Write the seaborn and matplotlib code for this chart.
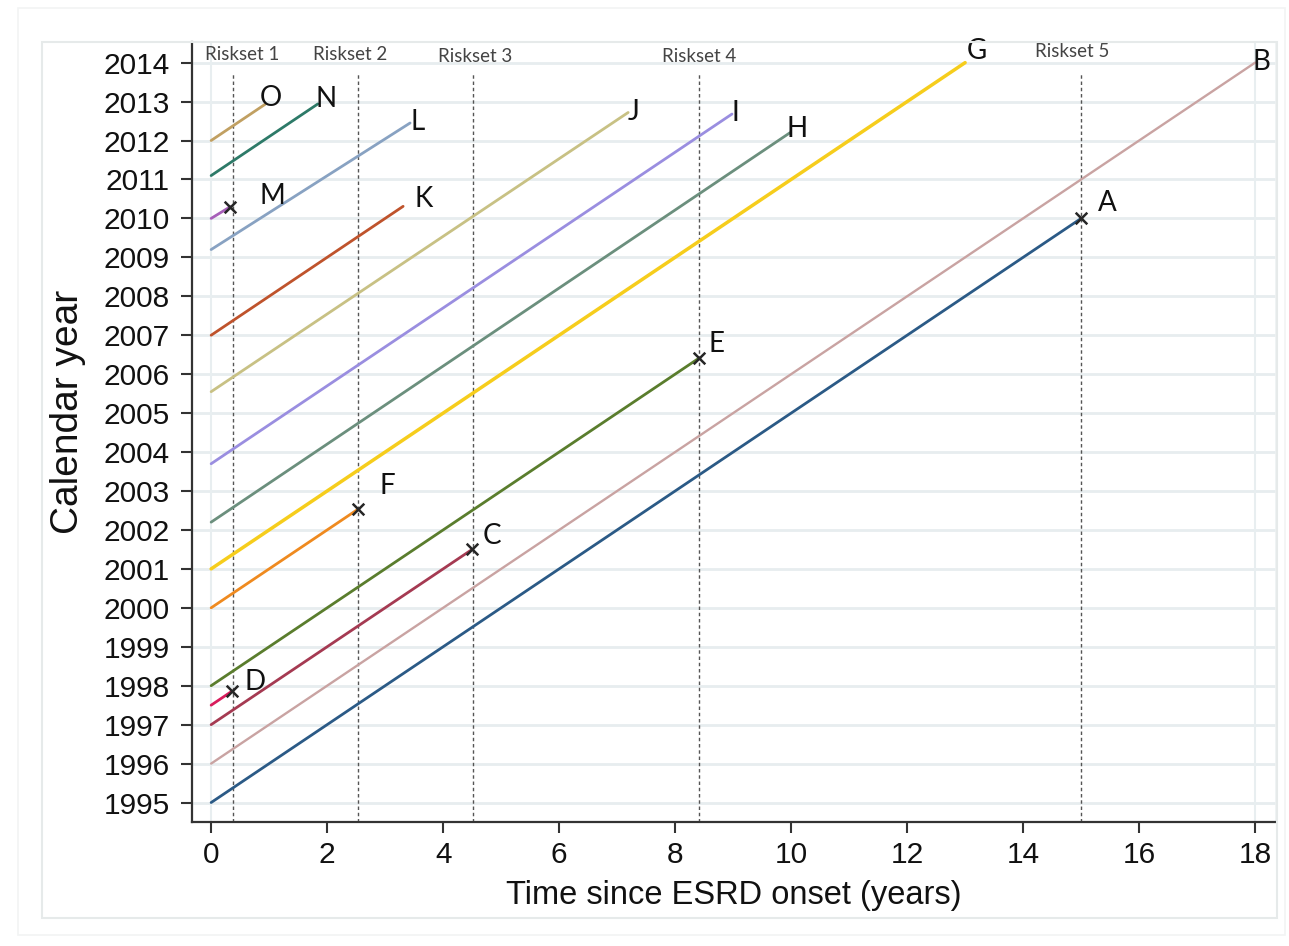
import matplotlib
matplotlib.use("Agg")
import matplotlib.pyplot as plt
from matplotlib.patches import Rectangle
import numpy as np
import pandas as pd
import seaborn as sns

# ---------------- data ----------------
ids = ["A", "B", "C", "D", "E", "F", "G", "H", "I", "J", "K", "L", "M", "N", "O"]
start_year = [1995.0, 1996.0, 1997.0, 1997.5, 1998.0, 2000.0, 2001.0, 2002.2,
              2003.7, 2005.55, 2007.0, 2009.2, 2010.0, 2011.1, 2012.0]
end_time = [15.0, 18.0, 4.5, 0.36, 8.41, 2.53, 13.0, 9.98,
            8.98, 7.19, 3.31, 3.43, 0.33, 1.84, 0.93]
end_year = [2010.0, 2014.0, 2001.5, 1997.86, 2006.41, 2002.53, 2014.0, 2012.2,
            2012.68, 2012.72, 2010.31, 2012.45, 2010.3, 2012.94, 2012.93]
event = [1, 0, 1, 1, 1, 1, 0, 0, 0, 0, 0, 0, 1, 0, 0]

riskset_time = [0.37, 2.54, 4.51, 8.41, 15.0]
riskset_labels = ["Riskset 1", "Riskset 2", "Riskset 3", "Riskset 4", "Riskset 5"]

year_ticks = list(range(1995, 2015))
time_ticks = list(range(0, 19, 2))

# ---------------- style ----------------
colors = {"A": "#2b5a86", "B": "#c9a3a2", "C": "#a53a52", "D": "#d81c5c",
          "E": "#5a7d2d", "F": "#ef8a1f", "G": "#f6cd1c", "H": "#6b8f7d",
          "I": "#9a8ee0", "J": "#c8c184", "K": "#bf532c", "L": "#88a2c2",
          "M": "#a65fb8", "N": "#2d7a68", "O": "#c1a062"}
widths = {k: 2.0 for k in ids}
widths["B"] = 1.7
widths["G"] = 2.5
# label offsets in pixels (dx right, dy up) from the line end
label_off = {"A": (26, 15), "B": (6, 1), "C": (20, 13), "D": (23, 9),
             "E": (18, 14), "F": (29, 23), "G": (12, 12), "H": (7, 4),
             "I": (3, 1), "J": (5, 0), "K": (21, 7), "L": (8, 1),
             "M": (42, 11), "N": (8, 5), "O": (6, 6)}
riskset_off = [(10, 8), (-8, 8), (2, 6), (0, 6), (-9, 11)]

sns.set_theme(style="white")
plt.rcParams["font.family"] = ["Liberation Sans", "DejaVu Sans"]

W, H = 1289, 946
fig = plt.figure(figsize=(W / 100, H / 100), dpi=100)
ax = fig.add_axes([192 / W, 1 - 822 / H, (1276 - 192) / W, (822 - 42) / H])

# faint frames around the graph region
fig.add_artist(Rectangle((18 / W, 1 - 935 / H), (1285 - 18) / W, (935 - 8) / H,
                         transform=fig.transFigure, fill=False,
                         edgecolor="#f2f4f4", lw=1.2))
fig.add_artist(Rectangle((42 / W, 1 - 918 / H), (1277 - 42) / W, (918 - 42) / H,
                         transform=fig.transFigure, fill=False,
                         edgecolor="#e6eaea", lw=1.5))

# grid
for y in year_ticks:
    ax.axhline(y, color="#e7edef", lw=2.0, zorder=0)
for x in [0, 18]:
    ax.axvline(x, color="#e8eef0", lw=1.5, zorder=0)

# lines
rows = []
for i, k in enumerate(ids):
    rows.append({"id": k, "time": 0.0, "year": start_year[i]})
    rows.append({"id": k, "time": end_time[i], "year": end_year[i]})
df = pd.DataFrame(rows)
for k in ids:
    sns.lineplot(data=df[df["id"] == k], x="time", y="year", color=colors[k],
                 lw=widths[k], estimator=None, sort=False, ax=ax, zorder=3)

# risk set lines
for t in riskset_time:
    ax.plot([t, t], [1994.5, 2013.77], color="#555555", lw=1.0,
            dashes=(2.5, 2), zorder=2)

# event markers
ev = pd.DataFrame({"time": [end_time[i] for i in range(len(ids)) if event[i]],
                   "year": [end_year[i] for i in range(len(ids)) if event[i]]})
sns.scatterplot(data=ev, x="time", y="year", marker="x", color="#262626",
                s=70, linewidth=1.8, ax=ax, zorder=5)

# letter labels
for i, k in enumerate(ids):
    dx, dy = label_off[k]
    ax.annotate(k, (end_time[i], end_year[i]), xytext=(dx * 0.72, dy * 0.72),
                textcoords="offset points", ha="center", va="center",
                fontsize=20, family=["Lato", "DejaVu Sans"], color="#111111",
                zorder=6)

# risk set labels
for t, lab, (dx, dy) in zip(riskset_time, riskset_labels, riskset_off):
    ax.annotate(lab, (t, 2014.0), xytext=(dx * 0.72, dy * 0.72),
                textcoords="offset points", ha="center", va="center",
                fontsize=13.5, family=["Lato", "DejaVu Sans"], color="#444444",
                zorder=6)

ax.set_xlim(-0.33, 18.36)
ax.set_ylim(1994.5, 2014.53)
ax.set_xticks(time_ticks)
ax.set_yticks(year_ticks)
ax.set_yticklabels([str(y) for y in year_ticks])
ax.tick_params(axis="both", which="major", direction="out", length=8,
               width=1.5, color="#333333", labelsize=21.5, labelcolor="#111111",
               left=True, bottom=True)
ax.tick_params(axis="y", pad=8)
ax.tick_params(axis="x", pad=6)
ax.set_xlabel("Time since ESRD onset (years)", fontsize=23.5, color="#111111")
ax.set_ylabel("Calendar year", fontsize=28, color="#111111")
ax.xaxis.set_label_coords(0.4995, -0.074)
ax.yaxis.set_label_coords(-0.098, 0.526)

for s in ["left", "bottom"]:
    ax.spines[s].set_color("#333333")
    ax.spines[s].set_linewidth(1.6)
for s in ["top", "right"]:
    ax.spines[s].set_color("#eef2f3")
    ax.spines[s].set_linewidth(1.2)
ax.set_facecolor("white")

fig.savefig("out.png", dpi=100)
